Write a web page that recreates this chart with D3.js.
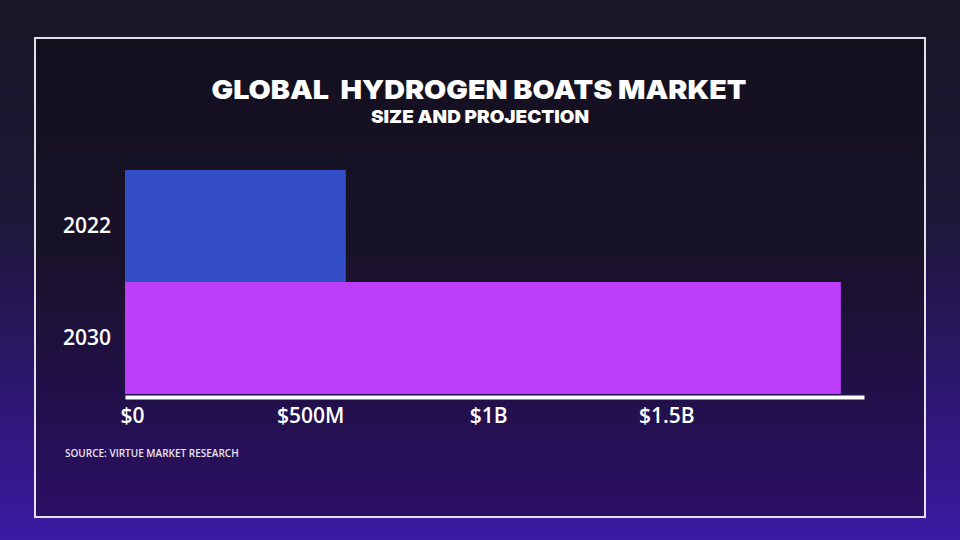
<!DOCTYPE html>
<html>
<head>
<meta charset="utf-8">
<script src="https://cdn.jsdelivr.net/npm/d3@7.9.0/dist/d3.min.js"></script>
<style>
  html, body { margin: 0; padding: 0; background: #1a1728; }
  svg { display: block; }
</style>
</head>
<body>
<svg id="chart" width="960" height="540"></svg>
<script>
// chart data
const years = ['2022', '2030'];
const marketSize = [620, 2010]; // USD millions
const tickValues = [0, 500, 1000, 1500];
const tickLabels = ['$0', '$500M', '$1B', '$1.5B'];
const barColors = ['#344fc5', '#bd3ef8'];

const svg = d3.select('#chart');
const defs = svg.append('defs');

// background gradients
const outerGrad = defs.append('linearGradient').attr('id', 'outerGrad')
  .attr('x1', 0).attr('y1', 0).attr('x2', 0).attr('y2', 1);
outerGrad.append('stop').attr('offset', '0%').attr('stop-color', '#1a1727');
outerGrad.append('stop').attr('offset', '40%').attr('stop-color', '#1e1738');
outerGrad.append('stop').attr('offset', '75%').attr('stop-color', '#2e1775');
outerGrad.append('stop').attr('offset', '100%').attr('stop-color', '#3c19a2');

const innerGrad = defs.append('linearGradient').attr('id', 'innerGrad')
  .attr('x1', 0).attr('y1', 0).attr('x2', 0).attr('y2', 1);
innerGrad.append('stop').attr('offset', '0%').attr('stop-color', '#13101e');
innerGrad.append('stop').attr('offset', '45%').attr('stop-color', '#181229');
innerGrad.append('stop').attr('offset', '75%').attr('stop-color', '#22104a');
innerGrad.append('stop').attr('offset', '100%').attr('stop-color', '#2c0f66');

svg.append('rect').attr('width', 960).attr('height', 540).attr('fill', 'url(#outerGrad)');

// frame
svg.append('rect')
  .attr('x', 35).attr('y', 38).attr('width', 890).attr('height', 479)
  .attr('fill', 'url(#innerGrad)')
  .attr('stroke', '#e4e1ea').attr('stroke-width', 2);

// titles
svg.append('text')
  .attr('x', 479).attr('y', 99)
  .attr('text-anchor', 'middle')
  .attr('fill', '#fff')
  .style('font-family', 'Inter, Roboto, sans-serif')
  .style('font-weight', 900)
  .style('font-size', '26px')
  .attr('textLength', 535).attr('lengthAdjust', 'spacingAndGlyphs')
  .style('white-space', 'pre')
  .text('GLOBAL  HYDROGEN BOATS MARKET');

svg.append('text')
  .attr('x', 480).attr('y', 123)
  .attr('text-anchor', 'middle')
  .attr('fill', '#fff')
  .style('font-family', 'Inter, Roboto, sans-serif')
  .style('font-weight', 900)
  .style('font-size', '18px')
  .attr('textLength', 218).attr('lengthAdjust', 'spacingAndGlyphs')
  .text('SIZE AND PROJECTION');

// scales
const x = d3.scaleLinear().domain([0, 2075]).range([125, 864]);
const y = d3.scaleBand().domain(years).range([170, 394]).padding(0);

// bars
svg.append('g')
  .selectAll('rect')
  .data(years)
  .join('rect')
  .attr('x', x(0))
  .attr('y', d => y(d))
  .attr('width', (d, i) => x(marketSize[i]) - x(0))
  .attr('height', y.bandwidth())
  .attr('fill', (d, i) => barColors[i]);

// y axis labels
const yAxis = svg.append('g')
  .attr('transform', 'translate(111,0)')
  .call(d3.axisLeft(y).tickSize(0).tickPadding(0));
yAxis.select('.domain').remove();
yAxis.selectAll('text')
  .attr('fill', '#fff')
  .style('font-family', '"Open Sans", sans-serif')
  .style('font-weight', 600)
  .style('font-size', '21px');

// x axis
const xAxis = svg.append('g')
  .attr('transform', 'translate(0,397)')
  .call(d3.axisBottom(x)
    .tickValues(tickValues)
    .tickFormat((d, i) => tickLabels[i])
    .tickSize(0)
    .tickSizeOuter(0)
    .tickPadding(11));
xAxis.select('.domain')
  .attr('stroke', '#fff')
  .attr('stroke-width', 4);
xAxis.selectAll('text')
  .attr('dx', 7)
  .attr('fill', '#fff')
  .style('font-family', '"Open Sans", sans-serif')
  .style('font-weight', 600)
  .style('font-size', '21px');

// source
svg.append('text')
  .attr('x', 65).attr('y', 457)
  .attr('fill', '#e8e4f0')
  .style('font-family', '"Open Sans", sans-serif')
  .style('font-weight', 600)
  .style('font-size', '10px')
  .text('SOURCE: VIRTUE MARKET RESEARCH');
</script>
</body>
</html>
